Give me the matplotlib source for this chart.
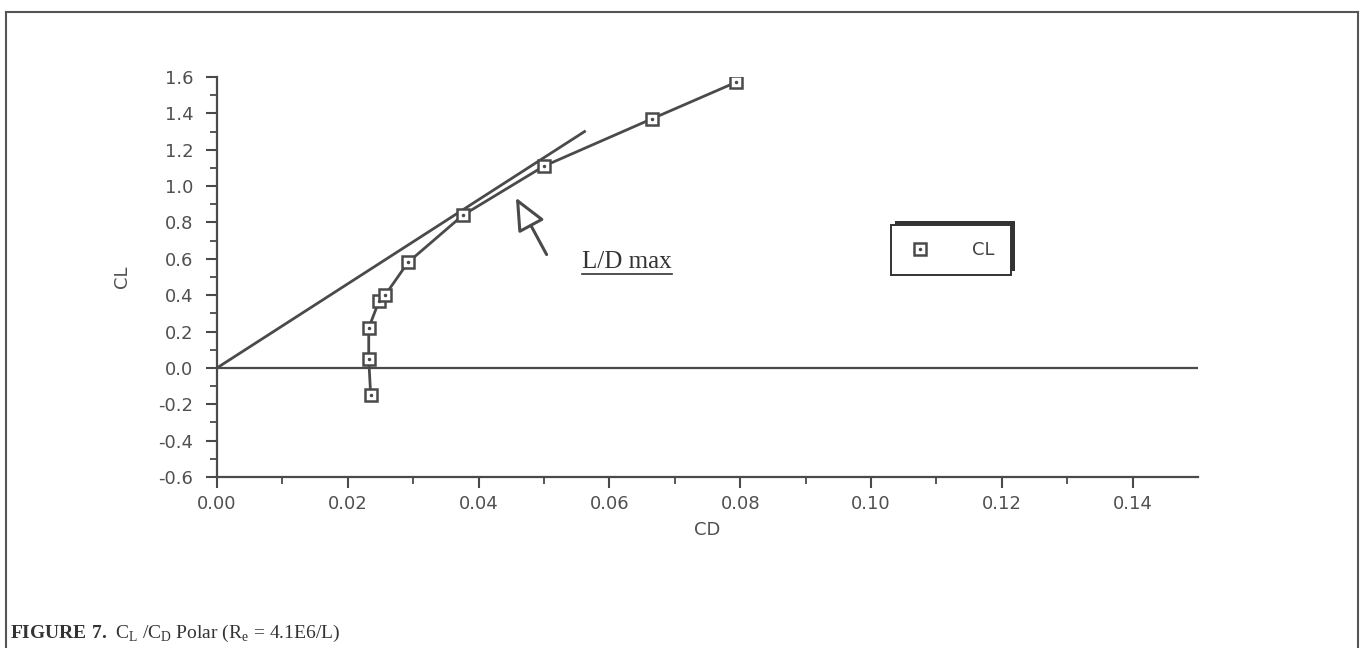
import matplotlib.pyplot as plt
from matplotlib.patches import Rectangle
from matplotlib.lines import Line2D
from matplotlib.legend_handler import HandlerTuple

plt.rcParams['mathtext.fontset'] = 'custom'
plt.rcParams['mathtext.rm'] = 'Liberation Serif'
plt.rcParams['mathtext.bf'] = 'Liberation Serif:bold'

# polar data
cd = [0.0235, 0.0232, 0.0232, 0.0248, 0.0257, 0.0292, 0.0376, 0.0500, 0.0665, 0.0793]
cl = [-0.15, 0.05, 0.22, 0.37, 0.40, 0.58, 0.84, 1.11, 1.37, 1.57]

# tangent line through origin (L/D max)
tan_cd = [0.0, 0.0562]
tan_cl = [0.0, 1.30]

# arrow tail -> head
arrow_tail = (0.0506, 0.61)
arrow_head = (0.0455, 0.95)
label_pos = (0.0627, 0.58)

xticks = [0.00, 0.02, 0.04, 0.06, 0.08, 0.10, 0.12, 0.14]
yticks = [-0.6, -0.4, -0.2, 0.0, 0.2, 0.4, 0.6, 0.8, 1.0, 1.2, 1.4, 1.6]

ink = '#4a4a4a'
tick_font = {'family': 'DejaVu Sans', 'size': 13, 'color': '#505050'}

fig = plt.figure(figsize=(13.63, 6.48), dpi=100)
ax = fig.add_axes([217 / 1363, 1 - 477 / 648, 981 / 1363, 400 / 648])

ax.plot(tan_cd, tan_cl, color=ink, lw=2)
ax.axhline(0, color=ink, lw=1.6)
ax.plot(cd, cl, color=ink, lw=2, marker='s', ms=9, mfc='white', mec=ink, mew=1.8)
ax.plot(cd, cl, ls='none', marker='.', ms=3, color=ink)

ax.annotate('', xy=arrow_head, xytext=arrow_tail,
            arrowprops=dict(arrowstyle='-|>,head_length=2.0,head_width=0.9',
                            fc='white', ec=ink, lw=2.2))
ld_text = ax.text(label_pos[0], label_pos[1], 'L/D max', family='Liberation Serif',
                  fontsize=18, color='#333333', ha='center', va='center')

ax.set_xlim(0, 0.15)
ax.set_ylim(-0.6, 1.6)
ax.set_xticks(xticks)
ax.set_xticklabels(['%.2f' % v for v in xticks], fontdict=tick_font)
ax.set_yticks(yticks)
ax.set_yticklabels(['%.1f' % v if v != 0 else '0.0' for v in yticks], fontdict=tick_font)
ax.set_xticks([0.01 + 0.02 * i for i in range(7)], minor=True)
ax.set_yticks([-0.5 + 0.2 * i for i in range(11)], minor=True)
ax.tick_params(which='major', direction='out', length=8, width=1.5, color=ink)
ax.tick_params(axis='x', which='major', pad=5)
ax.tick_params(axis='y', which='major', pad=9)
ax.tick_params(which='minor', direction='out', length=5, width=1.3, color=ink)

for side in ['top', 'right']:
    ax.spines[side].set_visible(False)
for side in ['left', 'bottom']:
    ax.spines[side].set_color(ink)
    ax.spines[side].set_linewidth(1.6)

ax.set_xlabel('CD', fontdict=tick_font, labelpad=6)
ax.set_ylabel('CL', fontdict=tick_font, labelpad=20)

# legend: marker only, square with a dot
sq = Line2D([], [], ls='none', marker='s', ms=8, mfc='white', mec=ink, mew=1.8)
dt = Line2D([], [], ls='none', marker='.', ms=3, color=ink)
leg = ax.legend([(sq, dt)], ['CL'], handler_map={tuple: HandlerTuple(ndivide=1)},
                loc='center', bbox_to_anchor=(951 / 1363, 1 - 250 / 648),
                bbox_transform=fig.transFigure, fancybox=False, frameon=True,
                framealpha=1, prop={'family': 'DejaVu Sans', 'size': 13},
                handlelength=1.4, handletextpad=2.2, borderpad=0.9, borderaxespad=0)
leg.get_frame().set_edgecolor('#333333')
leg.get_frame().set_linewidth(1.4)
leg.get_frame().set_facecolor('white')
for t in leg.get_texts():
    t.set_color('#444444')
leg.set_zorder(10)

fig.canvas.draw()
inv = fig.transFigure.inverted()

# legend drop shadow (up-right, as in the scan)
bb = leg.get_window_extent().transformed(inv)
shadow = Rectangle((bb.x0 + 4 / 1363, bb.y0 + 4 / 648), bb.width, bb.height,
                   transform=fig.transFigure, fc='#333333', ec='none', zorder=9, clip_on=False)
ax.add_patch(shadow)

# underline for the L/D max label
tb = ld_text.get_window_extent().transformed(inv)
fig.add_artist(plt.Line2D([tb.x0, tb.x1], [tb.y0 - 1 / 648, tb.y0 - 1 / 648],
                          transform=fig.transFigure, color='#333333', lw=1.2))

# page border
fig.add_artist(plt.Line2D([6 / 1363, 6 / 1363], [0, 1 - 12 / 648], transform=fig.transFigure, color='#555555', lw=1.5))
fig.add_artist(plt.Line2D([6 / 1363, 1358 / 1363], [1 - 12 / 648, 1 - 12 / 648], transform=fig.transFigure, color='#555555', lw=1.5))
fig.add_artist(plt.Line2D([1358 / 1363, 1358 / 1363], [0, 1 - 12 / 648], transform=fig.transFigure, color='#555555', lw=1.5))

fig.text(10 / 1363, 1 - 633 / 648,
         r'$\mathbf{FIGURE\ 7.}$ C$_\mathrm{L}$ /C$_\mathrm{D}$ Polar (R$_\mathrm{e}$ = 4.1E6/L)',
         family='Liberation Serif', fontsize=14, color='#333333', va='center', ha='left')

fig.savefig('out.png', dpi=100, facecolor='white')
